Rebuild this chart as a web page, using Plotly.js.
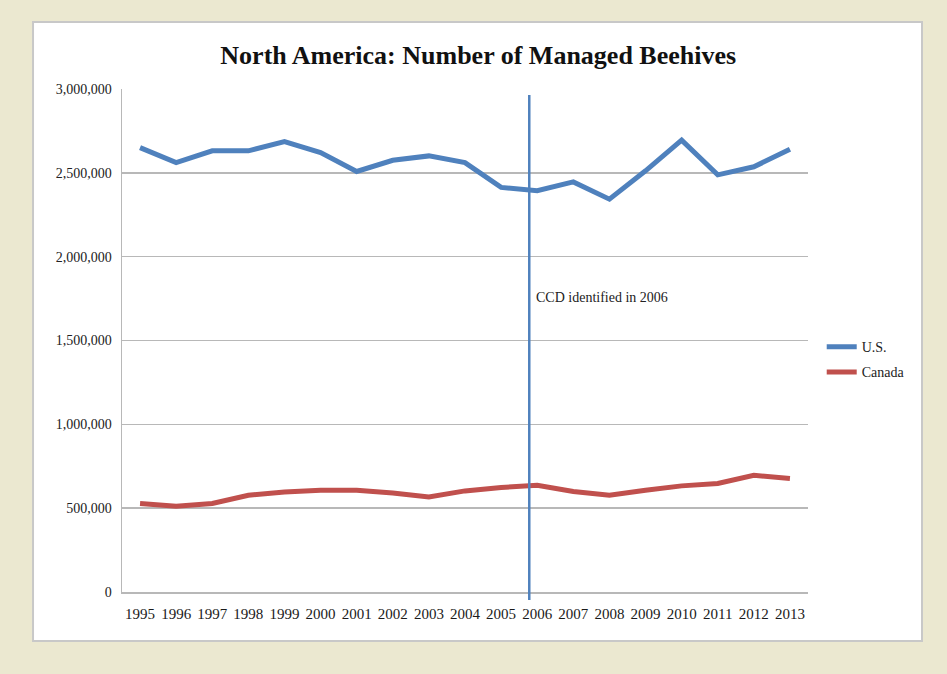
<!DOCTYPE html>
<html>
<head>
<meta charset="utf-8">
<script src="https://cdn.plot.ly/plotly-3.0.1.min.js"></script>
<style>html,body{margin:0;padding:0;background:#ebe8d0;}#chart{width:947px;height:674px;}</style>
</head>
<body>
<div id="chart"></div>
<script>
const years = ["1995","1996","1997","1998","1999","2000","2001","2002","2003","2004","2005","2006","2007","2008","2009","2010","2011","2012","2013"];
const usHives = [2650000,2561000,2631000,2631000,2686000,2621000,2508000,2575000,2601000,2561000,2413000,2393000,2446000,2343000,2512000,2695000,2488000,2536000,2641000];
const canadaHives = [528000,512000,528000,577000,597000,607000,607000,591000,567000,603000,623000,637000,600000,577000,607000,633000,647000,696000,677000];
const ccdPosition = 10.78; // vertical marker drawn just left of 2006
const ccdLabel = "CCD identified in 2006";
const yTicks = [0,500000,1000000,1500000,2000000,2500000,3000000];
const yTickText = ["0","500,000","1,000,000","1,500,000","2,000,000","2,500,000","3,000,000"];

const serif = "Liberation Serif, DejaVu Serif, serif";

const traces = [
  {x: years, y: usHives, name: "U.S.", type: "scatter", mode: "lines",
   line: {color: "#4f81bd", width: 5}, legendgroup: "a"},
  {x: years, y: canadaHives, name: "Canada", type: "scatter", mode: "lines",
   line: {color: "#c0504d", width: 5}, legendgroup: "b"}
];

const layout = {
  width: 947, height: 674,
  margin: {l: 122, r: 139, t: 89, b: 82},
  paper_bgcolor: "#ebe8d0",
  plot_bgcolor: "rgba(0,0,0,0)",
  title: {text: "<b>North America: Number of Managed Beehives</b>",
          font: {family: serif, size: 26, color: "#111"},
          x: 0.505, xanchor: "center", y: 0.918, yanchor: "middle"},
  xaxis: {type: "category", range: [-0.5, 18.5], showgrid: false,
          showline: true, linecolor: "#b8b8b8", linewidth: 1.5,
          ticks: "", tickfont: {family: serif, size: 15, color: "#1a1a1a"},
          ticklabelstandoff: 7, fixedrange: true},
  yaxis: {range: [0, 3000000], tickvals: yTicks, ticktext: yTickText,
          showgrid: true, gridcolor: "#b8b8b8", gridwidth: 1.5,
          showline: true, linecolor: "#b8b8b8", linewidth: 1.5,
          zeroline: false, ticks: "",
          tickfont: {family: serif, size: 14, color: "#222"},
          ticklabelstandoff: 6, fixedrange: true},
  legend: {x: 1.02, xanchor: "left", y: 0.462, yanchor: "middle",
           font: {family: serif, size: 14, color: "#222"},
           bgcolor: "rgba(0,0,0,0)", tracegroupgap: 4, itemwidth: 30},
  shapes: [
    {type: "rect", xref: "paper", yref: "paper",
     x0: -0.1297, x1: 1.1662, y0: -0.0974, y1: 1.1332,
     fillcolor: "#ffffff", line: {color: "#c8c8c8", width: 2}, layer: "below"},
    {type: "line", xref: "x", yref: "paper",
     x0: ccdPosition, x1: ccdPosition, y0: -0.016, y1: 0.988,
     line: {color: "#4f81bd", width: 2.5}}
  ],
  annotations: [
    {xref: "x", yref: "y", x: ccdPosition, y: 1756000, text: ccdLabel,
     showarrow: false, xanchor: "left", yanchor: "middle", xshift: 5,
     font: {family: serif, size: 14, color: "#222"}}
  ]
};

Plotly.newPlot("chart", traces, layout, {displayModeBar: false, staticPlot: true});
</script>
</body>
</html>
